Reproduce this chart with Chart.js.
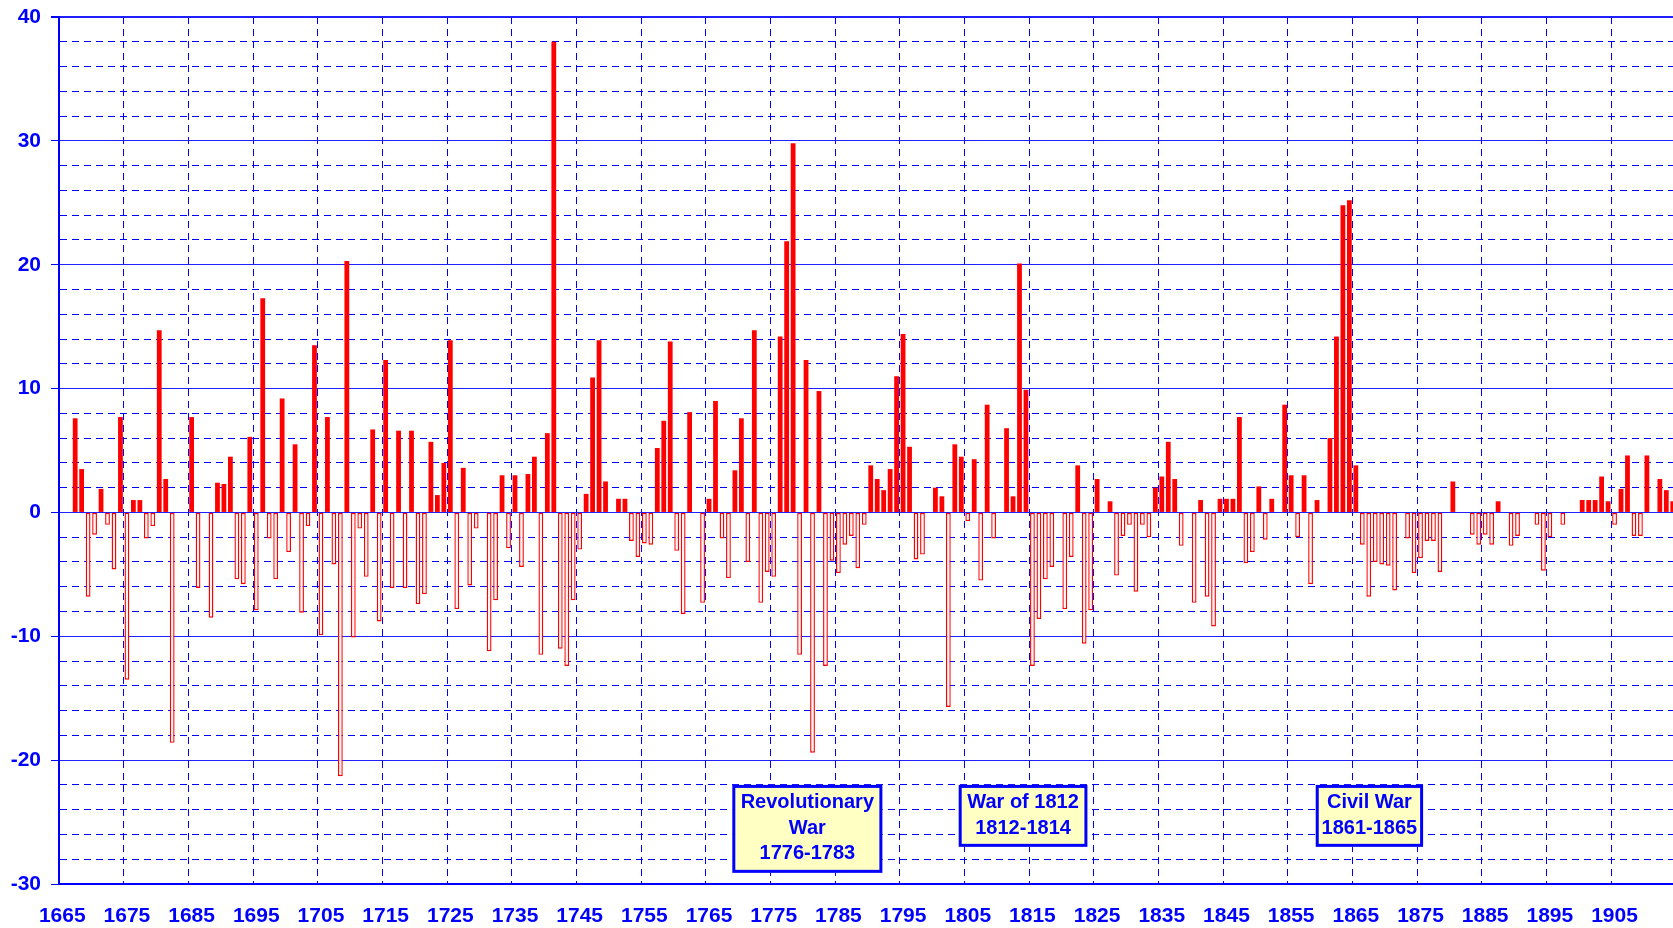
<!DOCTYPE html>
<html>
<head>
<meta charset="utf-8">
<script src="https://cdn.jsdelivr.net/npm/chart.js@4.4.1/dist/chart.umd.min.js"></script>
<style>
  html, body { margin: 0; padding: 0; background: #ffffff; overflow: hidden; }
  #wrap { width: 1676px; height: 928px; }
</style>
</head>
<body>
<div id="wrap"><canvas id="c" width="1676" height="928"></canvas></div>
<script>
// ---- categories (one per year) ----
const years = [
  1665,1666,1667,1668,1669,1670,1671,1672,1673,1674,
  1675,1676,1677,1678,1679,1680,1681,1682,1683,1684,
  1685,1686,1687,1688,1689,1690,1691,1692,1693,1694,
  1695,1696,1697,1698,1699,1700,1701,1702,1703,1704,
  1705,1706,1707,1708,1709,1710,1711,1712,1713,1714,
  1715,1716,1717,1718,1719,1720,1721,1722,1723,1724,
  1725,1726,1727,1728,1729,1730,1731,1732,1733,1734,
  1735,1736,1737,1738,1739,1740,1741,1742,1743,1744,
  1745,1746,1747,1748,1749,1750,1751,1752,1753,1754,
  1755,1756,1757,1758,1759,1760,1761,1762,1763,1764,
  1765,1766,1767,1768,1769,1770,1771,1772,1773,1774,
  1775,1776,1777,1778,1779,1780,1781,1782,1783,1784,
  1785,1786,1787,1788,1789,1790,1791,1792,1793,1794,
  1795,1796,1797,1798,1799,1800,1801,1802,1803,1804,
  1805,1806,1807,1808,1809,1810,1811,1812,1813,1814,
  1815,1816,1817,1818,1819,1820,1821,1822,1823,1824,
  1825,1826,1827,1828,1829,1830,1831,1832,1833,1834,
  1835,1836,1837,1838,1839,1840,1841,1842,1843,1844,
  1845,1846,1847,1848,1849,1850,1851,1852,1853,1854,
  1855,1856,1857,1858,1859,1860,1861,1862,1863,1864,
  1865,1866,1867,1868,1869,1870,1871,1872,1873,1874,
  1875,1876,1877,1878,1879,1880,1881,1882,1883,1884,
  1885,1886,1887,1888,1889,1890,1891,1892,1893,1894,
  1895,1896,1897,1898,1899,1900,1901,1902,1903,1904,
  1905,1906,1907,1908,1909,1910,1911,1912,1913,1914
];

// ---- series values (same order as years; null = no bar) ----
const values = [
  null, null, 7.6, 3.5, -6.8, -1.8, 1.9, -1.0, -4.6, 7.7,      // 1665-1674
  -13.5, 1.0, 1.0, -2.1, -1.1, 14.7, 2.7, -18.6, null, null,   // 1675-1684
  7.7, -6.1, null, -8.5, 2.4, 2.3, 4.5, -5.4, -5.8, 6.1,       // 1685-1694
  -7.9, 17.3, -2.1, -5.4, 9.2, -3.2, 5.5, -8.1, -1.1, 13.5,    // 1695-1704
  -9.9, 7.7, -4.2, -21.3, 20.3, -10.1, -1.3, -5.2, 6.7, -8.8,  // 1705-1714
  12.3, -6.1, 6.6, -6.1, 6.6, -7.4, -6.6, 5.7, 1.4, 4.0,       // 1715-1724
  13.9, -7.8, 3.6, -5.9, -1.3, null, -11.2, -7.1, 3.0, -2.9,   // 1725-1734
  3.0, -4.4, 3.1, 4.5, -11.5, 6.4, 38.0, -11.0, -12.4, -7.1,   // 1735-1744
  -3.0, 1.5, 10.9, 13.9, 2.5, null, 1.1, 1.1, -2.3, -3.6,      // 1745-1754
  -2.5, -2.6, 5.2, 7.4, 13.8, -3.1, -8.2, 8.1, null, -7.3,     // 1755-1764
  1.1, 9.0, -2.1, -5.3, 3.4, 7.6, -4.0, 14.7, -7.3, -4.8,      // 1765-1774
  -5.2, 14.2, 21.9, 29.8, -11.5, 12.3, -19.4, 9.8, -12.4, -3.9,// 1775-1784
  -4.9, -2.6, -1.9, -4.5, -1.0, 3.8, 2.7, 1.8, 3.5, 11.0,      // 1785-1794
  14.4, 5.3, -3.8, -3.4, null, 2.0, 1.3, -15.7, 5.5, 4.5,      // 1795-1804
  -0.7, 4.3, -5.5, 8.7, -2.1, null, 6.8, 1.3, 20.1, 9.9,       // 1805-1814
  -12.4, -8.6, -5.4, -4.4, null, -7.8, -3.6, 3.8, -10.6, -7.9, // 1815-1824
  2.7, null, 0.9, -5.1, -1.9, -1.0, -6.4, -1.0, -2.0, 2.0,     // 1825-1834
  2.9, 5.7, 2.7, -2.7, null, -7.3, 1.0, -6.8, -9.2, 1.1,       // 1835-1844
  1.1, 1.1, 7.7, -4.1, -3.2, 2.1, -2.2, 1.1, null, 8.7,        // 1845-1854
  3.0, -2.0, 3.0, -5.8, 1.0, null, 6.0, 14.2, 24.8, 25.2,      // 1855-1864
  3.8, -2.6, -6.8, -4.0, -4.2, -4.3, -6.3, null, -2.1, -4.9,   // 1865-1874
  -3.7, -2.3, -2.3, -4.8, null, 2.5, null, null, -1.8, -2.6,   // 1875-1884
  -1.8, -2.6, 0.9, null, -2.7, -1.9, null, null, -1.0, -4.7,   // 1885-1894
  -2.0, null, -1.0, null, null, 1.0, 1.0, 1.0, 2.9, 0.9,       // 1895-1904
  -1.0, 1.9, 4.6, -1.9, -1.9, 4.6, null, 2.7, 1.8, 0.9         // 1905-1914
];

// ---- tick labels (every tenth year) ----
const tickLabels = ['1665','1675','1685','1695','1705','1715','1725','1735','1745','1755',
  '1765','1775','1785','1795','1805','1815','1825','1835','1845','1855','1865','1875',
  '1885','1895','1905'];
const yTickLabels = [-30, -20, -10, 0, 10, 20, 30, 40];

// ---- annotation boxes ----
const warBoxes = [
  { lines: ['Revolutionary', 'War', '1776-1783'], fromYear: 1769.1, toYear: 1792.3, top: -22.0, bottom: -29.1 },
  { lines: ['War of 1812', '1812-1814'],          fromYear: 1804.1, toYear: 1824.0, top: -22.0, bottom: -27.0 },
  { lines: ['Civil War', '1861-1865'],            fromYear: 1859.3, toYear: 1875.9, top: -22.0, bottom: -27.0 }
];

const BLUE = '#0000ff';
const RED = '#ff0000';
const FONT = "'Liberation Sans', Arial, sans-serif";

const boxPlugin = {
  id: 'warBoxes',
  afterDatasetsDraw(chart) {
    const ctx = chart.ctx;
    const xs = chart.scales.x, ys = chart.scales.y;
    const slot = xs.width / years.length;
    ctx.save();
    warBoxes.forEach(b => {
      const x0 = xs.left + (b.fromYear - years[0]) * slot;
      const x1 = xs.left + (b.toYear - years[0]) * slot;
      const y0 = ys.getPixelForValue(b.top);
      const y1 = ys.getPixelForValue(b.bottom);
      ctx.fillStyle = '#ffffc4';
      ctx.fillRect(x0, y0, x1 - x0, y1 - y0);
      ctx.lineWidth = 3;
      ctx.strokeStyle = BLUE;
      ctx.strokeRect(x0 + 1.5, y0 + 1.5, x1 - x0 - 3, y1 - y0 - 3);
      ctx.fillStyle = BLUE;
      ctx.font = 'bold 20px ' + FONT;
      ctx.textAlign = 'center';
      ctx.textBaseline = 'middle';
      const cx = (x0 + x1) / 2;
      b.lines.forEach((t, i) => {
        ctx.fillText(t, cx, y0 + 18 + i * 25.5);
      });
    });
    ctx.restore();
  }
};

new Chart(document.getElementById('c'), {
  type: 'bar',
  data: {
    labels: years,
    datasets: [{
      data: values,
      backgroundColor: c => (c.raw !== null && c.raw < 0) ? '#fff4f4' : RED,
      borderColor: RED,
      borderWidth: c => (c.raw !== null && c.raw < 0) ? 1.4 : 0,
      borderSkipped: false,
      barPercentage: 0.74,
      categoryPercentage: 1.0
    }]
  },
  options: {
    responsive: false,
    animation: false,
    devicePixelRatio: 1,
    layout: { padding: { top: 17, left: 0, right: 0, bottom: 0 } },
    plugins: { legend: { display: false }, tooltip: { enabled: false } },
    scales: {
      x: {
        type: 'category',
        offset: true,
        grid: {
          offset: true,
          drawTicks: false,
          color: c => (c.index % 10 === 0) ? BLUE : 'rgba(0,0,0,0)',
          lineWidth: 1
        },
        border: { display: true, color: BLUE, width: 2, dash: [7, 5] },
        ticks: {
          autoSkip: false,
          minRotation: 0,
          maxRotation: 0,
          padding: 20,
          color: BLUE,
          font: { family: FONT, size: 21, weight: 'bold' },
          callback: (v, i) => (i % 10 === 0) ? tickLabels[i / 10] : ''
        },
        afterFit: s => { s.height = 44; s.paddingLeft = 0; s.paddingRight = 0; }
      },
      y: {
        min: -30,
        max: 40,
        ticks: {
          stepSize: 2,
          autoSkip: false,
          padding: 10,
          color: BLUE,
          font: { family: FONT, size: 21, weight: 'bold' },
          callback: v => yTickLabels.includes(v) ? String(v) : ''
        },
        grid: {
          color: c => (c.tick && c.tick.value % 10 === 0) ? '#2020ff' : BLUE,
          lineWidth: c => (c.tick && c.tick.value === 40) ? 2 : 1,
          tickColor: c => (c.tick && c.tick.value % 10 === 0) ? BLUE : 'rgba(0,0,0,0)',
          tickLength: 8,
          drawTicks: true
        },
        border: {
          display: true, color: BLUE, width: 2,
          dash: c => (c.tick && c.tick.value % 10 !== 0) ? [7, 5] : []
        },
        afterFit: s => { s.width = 59; s.paddingTop = 0; s.paddingBottom = 0; }
      }
    }
  },
  plugins: [boxPlugin]
});
</script>
</body>
</html>
